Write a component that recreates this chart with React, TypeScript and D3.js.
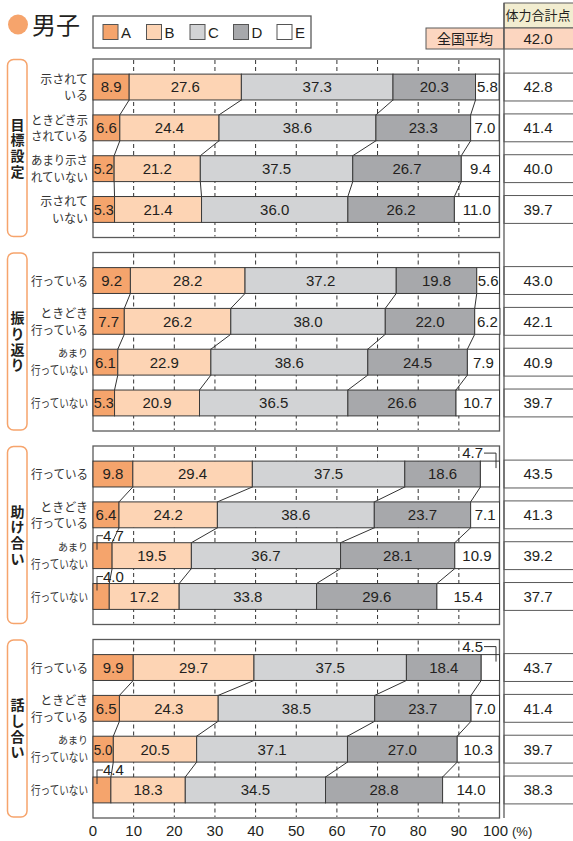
import React from 'react';
import * as d3 from 'd3';

const seriesKeys = ['A', 'B', 'C', 'D', 'E'];
const seriesColors = ['#f5a46c', '#fdd4b4', '#d2d3d5', '#a7a8ab', '#ffffff'];

const groupNames = ['目標設定', '振り返り', '助け合い', '話し合い'];

const labelsGoal = [['示されて', 'いる'], ['ときどき示', 'されている'], ['あまり示さ', 'れていない'], ['示されて', 'いない']];
const labelsDo = [['行っている'], ['ときどき', '行っている'], ['あまり', '行っていない'], ['行っていない']];

const valuesGoal = [
  [8.9, 27.6, 37.3, 20.3, 5.8],
  [6.6, 24.4, 38.6, 23.3, 7.0],
  [5.2, 21.2, 37.5, 26.7, 9.4],
  [5.3, 21.4, 36.0, 26.2, 11.0],
];
const valuesReview = [
  [9.2, 28.2, 37.2, 19.8, 5.6],
  [7.7, 26.2, 38.0, 22.0, 6.2],
  [6.1, 22.9, 38.6, 24.5, 7.9],
  [5.3, 20.9, 36.5, 26.6, 10.7],
];
const valuesHelp = [
  [9.8, 29.4, 37.5, 18.6, 4.7],
  [6.4, 24.2, 38.6, 23.7, 7.1],
  [4.7, 19.5, 36.7, 28.1, 10.9],
  [4.0, 17.2, 33.8, 29.6, 15.4],
];
const valuesTalk = [
  [9.9, 29.7, 37.5, 18.4, 4.5],
  [6.5, 24.3, 38.5, 23.7, 7.0],
  [5.0, 20.5, 37.1, 27.0, 10.3],
  [4.4, 18.3, 34.5, 28.8, 14.0],
];

const scoresGoal = [42.8, 41.4, 40.0, 39.7];
const scoresReview = [43.0, 42.1, 40.9, 39.7];
const scoresHelp = [43.5, 41.3, 39.2, 37.7];
const scoresTalk = [43.7, 41.4, 39.7, 38.3];

const nationalAverage = 42.0;
const xTicks = [0, 10, 20, 30, 40, 50, 60, 70, 80, 90, 100];

const groups = [
  { name: groupNames[0], labels: labelsGoal, values: valuesGoal, scores: scoresGoal },
  { name: groupNames[1], labels: labelsDo, values: valuesReview, scores: scoresReview },
  { name: groupNames[2], labels: labelsDo, values: valuesHelp, scores: scoresHelp },
  { name: groupNames[3], labels: labelsDo, values: valuesTalk, scores: scoresTalk },
];

const NUM_FONT = '"Liberation Sans", Arial, Helvetica, sans-serif';
const JP_FONT = '"Noto Sans CJK JP", "Noto Sans", sans-serif';
const INK = '#231f20';
const BORDER = '#5a5a5a';

function textW(s: string, size: number) {
  let w = 0;
  for (const c of s) w += c === '.' ? 0.278 : 0.556;
  return w * size;
}

function cy1(y: d3.ScaleBand<number>, ri: number, bh: number) {
  return y(ri)! + bh / 2;
}

export default function App() {
  const W = 573;
  const H = 841;
  const x = d3.scaleLinear().domain([0, 100]).range([93, 499.5]);
  const panelScale = d3.scaleBand<number>().domain([0, 1, 2, 3]).range([59, 818]).paddingInner(0.0775).paddingOuter(0);
  const rightX = 504;
  const valSize = 15;
  const catSize = 12;

  const panels = groups.map((g, gi) => {
    const top = panelScale(gi)!;
    const ph = panelScale.bandwidth();
    const y = d3.scaleBand<number>().domain([0, 1, 2, 3]).range([top, top + ph]).paddingInner(0.366).paddingOuter(0.37);
    const bh = y.bandwidth();
    const stacks = g.values.map((row) => {
      const cum = d3.cumsum(row);
      return row.map((v, k) => ({ v, x0: k === 0 ? 0 : cum[k - 1], x1: cum[k], k }));
    });
    const chars = Array.from(g.name);
    return (
      <g key={gi}>
        <rect x={x(0)} y={top} width={x(100) - x(0)} height={ph} fill="#fff" stroke={BORDER} strokeWidth={1.3} />
        {xTicks.slice(1, -1).map((t) => (
          <line key={t} x1={x(t)} x2={x(t)} y1={top + 1} y2={top + ph - 1} stroke="#333" strokeWidth={1} strokeDasharray="4,3" />
        ))}
        {stacks.slice(0, -1).map((row, ri) =>
          [1, 2, 3, 4].map((k) => (
            <line
              key={`c${ri}-${k}`}
              x1={x(row[k].x0)}
              y1={y(ri)! + bh}
              x2={x(stacks[ri + 1][k].x0)}
              y2={y(ri + 1)!}
              stroke="#333"
              strokeWidth={1}
            />
          ))
        )}
        {stacks.map((row, ri) => (
          <g key={`r${ri}`}>
            {row.map((s) => (
              <rect
                key={s.k}
                x={x(s.x0)}
                y={y(ri)}
                width={x(s.x1) - x(s.x0)}
                height={bh}
                fill={seriesColors[s.k]}
                stroke="#3a3a3a"
                strokeWidth={1}
              />
            ))}
            {row.map((s) => {
              const label = s.v.toFixed(1);
              const segW = x(s.x1) - x(s.x0);
              const cy = y(ri)! + bh / 2;
              if (s.v < 5) {
                const bt = y(ri)!;
                if (s.k === 0) {
                  const lx = x(0) + 4;
                  return (
                    <g key={`l${s.k}`}>
                      <polyline points={`${lx},${bt + 7} ${lx},${bt - 7} ${lx + 6},${bt - 7}`} fill="none" stroke="#333" strokeWidth={1} />
                      <text x={lx + 6} y={bt - 7} dy="0.36em" fontFamily={NUM_FONT} fontSize={valSize} fill={INK}>{label}</text>
                    </g>
                  );
                }
                const rx = x(100) - 3.5;
                return (
                  <g key={`l${s.k}`}>
                    <polyline points={`${rx - 12},${bt - 8} ${rx},${bt - 8} ${rx},${bt + 7}`} fill="none" stroke="#333" strokeWidth={1} />
                    <text x={rx - 13} y={bt - 8} dy="0.36em" textAnchor="end" fontFamily={NUM_FONT} fontSize={valSize} fill={INK}>{label}</text>
                  </g>
                );
              }
              const tw = textW(label, valSize);
              const fit = tw > segW - 1.5;
              return (
                <text
                  key={`l${s.k}`}
                  x={x((s.x0 + s.x1) / 2)}
                  y={cy}
                  dy="0.36em"
                  textAnchor="middle"
                  fontFamily={NUM_FONT}
                  fontSize={valSize}
                  fill={INK}
                  {...(fit ? { textLength: segW - 1.5, lengthAdjust: 'spacingAndGlyphs' } : {})}
                >
                  {label}
                </text>
              );
            })}
            {g.labels[ri].length === 1 ? (
              <text x={88} y={cy1(y, ri, bh) + 1} dy="0.36em" textAnchor="end" fontFamily={JP_FONT} fontSize={catSize} fill="#333"
                {...(g.labels[ri][0].length * catSize > 57 ? { textLength: 57, lengthAdjust: 'spacingAndGlyphs' } : {})}>
                {g.labels[ri][0]}
              </text>
            ) : (
              g.labels[ri].map((t, li) => {
                const small = t === 'あまり';
                const fs = small ? 10 : catSize;
                const fit = t.length * fs > 57;
                return (
                  <text
                    key={li}
                    x={88}
                    y={cy1(y, ri, bh) + (li === 0 ? (small ? -8.5 : -7.5) : 9)}
                    dy="0.36em"
                    textAnchor="end"
                    fontFamily={JP_FONT}
                    fontSize={fs}
                    fill="#333"
                    {...(fit ? { textLength: 57, lengthAdjust: 'spacingAndGlyphs' } : {})}
                  >
                    {t}
                  </text>
                );
              })
            )}
            <rect x={rightX} y={y(ri)! - 1} width={75} height={bh + 2} fill="#fff" stroke={BORDER} strokeWidth={1} />
            <text x={538} y={cy1(y, ri, bh)} dy="0.36em" textAnchor="middle" fontFamily={NUM_FONT} fontSize={valSize} fill={INK}>
              {g.scores[ri].toFixed(1)}
            </text>
          </g>
        ))}
        <rect x={7.5} y={top + 0.5} width={19.5} height={ph - 1.5} rx={6} fill="#fff" stroke="#f6a46c" strokeWidth={1.5} />
        <text textAnchor="middle" fontFamily={JP_FONT} fontWeight={700} fontSize={14} fill={INK}>
          {chars.map((c, ci) => (
            <tspan key={ci} x={17.5} y={top + ph / 2 + (ci - 1.5) * 15.6} dy="0.36em">{c}</tspan>
          ))}
        </text>
      </g>
    );
  });

  const legendX = d3.scaleLinear().domain([0, 1]).range([103, 146.5]);

  return (
    <svg width={W} height={H} viewBox={`0 0 ${W} ${H}`} style={{ position: 'absolute', left: 0, top: 0, background: '#fff' }}>
      <rect x={0} y={0} width={W} height={H} fill="#fff" />
      <circle cx={18} cy={24.5} r={10} fill="#f6a46c" />
      <text x={32} y={33.5} fontFamily={JP_FONT} fontSize={24} fill={INK}>男子</text>
      <rect x={93} y={16} width={218} height={32} fill="#fff" stroke={BORDER} strokeWidth={1.3} />
      {seriesKeys.map((k, i) => (
        <g key={k}>
          <rect x={legendX(i)} y={24.5} width={15} height={15} fill={seriesColors[i]} stroke="#555" strokeWidth={1} />
          <text x={legendX(i) + 18} y={32.5} dy="0.36em" fontFamily={NUM_FONT} fontSize={15} fill={INK}>{k}</text>
        </g>
      ))}
      <rect x={rightX} y={3} width={75} height={25} fill="#f2edd0" stroke={BORDER} strokeWidth={1} />
      <text x={538} y={15.5} dy="0.36em" textAnchor="middle" fontFamily={JP_FONT} fontSize={13} fill={INK}>体力合計点</text>
      <rect x={426} y={28} width={rightX - 426} height={21} fill="#fcd6c0" stroke={BORDER} strokeWidth={1} />
      <text x={465} y={38.5} dy="0.36em" textAnchor="middle" fontFamily={JP_FONT} fontSize={14} fill={INK}>全国平均</text>
      <rect x={rightX} y={28} width={75} height={21} fill="#fcd6c0" stroke={BORDER} strokeWidth={1} />
      <text x={538} y={38.5} dy="0.36em" textAnchor="middle" fontFamily={NUM_FONT} fontSize={valSize} fill={INK}>{nationalAverage.toFixed(1)}</text>
      {panels}
      <line x1={rightX} x2={rightX} y1={3} y2={818} stroke={BORDER} strokeWidth={1.3} />
      {xTicks.map((t) => (
        <text key={t} x={x(t) - (t === 100 ? 4 : 0)} y={836} textAnchor="middle" fontFamily={NUM_FONT} fontSize={15} fill={INK}>{t}</text>
      ))}
      <text x={512} y={836} fontFamily={NUM_FONT} fontSize={13} fill={INK}>(%)</text>
    </svg>
  );
}
